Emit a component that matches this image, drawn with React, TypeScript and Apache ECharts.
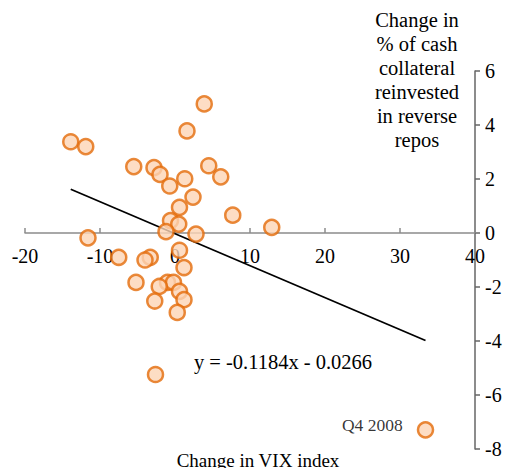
import React, { useEffect, useRef } from "react";
import * as echarts from "echarts";

const vixChange = [-13.9, -11.9, 3.9, 1.6, -5.5, -2.8, -2.0, 1.3, 4.5, 6.1, -0.7, 2.4, 0.6, 7.7, -0.6, 0.5, -1.2, 2.8, 12.9, -11.6, 0.6, -7.5, -3.3, -4.0, 1.2, -5.2, -1.0, -0.2, -2.1, 0.6, 1.2, -2.7, 0.3, -2.6];
const repoChange = [3.38, 3.2, 4.78, 3.78, 2.46, 2.42, 2.17, 2.01, 2.49, 2.08, 1.74, 1.33, 0.95, 0.66, 0.46, 0.33, 0.05, -0.04, 0.21, -0.18, -0.64, -0.9, -0.9, -1.0, -1.28, -1.83, -1.83, -1.83, -1.98, -2.16, -2.47, -2.52, -2.94, -5.24];
const q4x = 33.4;
const q4y = -7.29;
const q4Label = "Q4 2008";
const slope = -0.1184;
const intercept = -0.0266;
const equationText = "y = -0.1184x - 0.0266";
const yAxisTitle = "Change in\n% of cash\ncollateral\nreinvested\nin reverse\nrepos";
const xAxisTitle = "Change in VIX index";
const yMin = -8;
const yMax = 6;

const FONT = "'Liberation Serif', 'Times New Roman', serif";

export default function App() {
  const ref = useRef<HTMLDivElement>(null);
  useEffect(() => {
    if (!ref.current) return;
    const chart = echarts.init(ref.current, null, { renderer: "svg" });
    const allX = [...vixChange, q4x];
    const xMin = Math.min(...allX);
    const xMax = Math.max(...allX);
    const pts = vixChange.map((x, i) => [x, repoChange[i]]);
    const markerStyle = { color: "#FCD5B5", borderColor: "#E46C0A", borderWidth: 2.5 };
    const gridTop = 71;
    const gridBottom = 19;
    const plotH = 468 - gridTop - gridBottom;
    const zeroFromBottom = (-yMin / (yMax - yMin)) * plotH;
    const richSerif = { s: { fontFamily: FONT, fontSize: 20, color: "#000" } };
    chart.setOption({
      animation: false,
      textStyle: { fontFamily: FONT },
      grid: { left: 25, right: 33, top: gridTop, bottom: gridBottom, containLabel: false, outerBoundsMode: "none" },
      xAxis: {
        type: "value",
        min: -20,
        max: 40,
        interval: 10,
        position: "bottom",
        offset: -zeroFromBottom,
        axisLine: { onZero: false, lineStyle: { color: "#8C8C8C", width: 1.5 } },
        axisTick: { show: true, inside: true, length: 5, lineStyle: { color: "#8C8C8C", width: 1.5 } },
        axisLabel: {
          color: "#000",
          fontFamily: FONT,
          fontSize: 20,
          margin: 13,
          hideOverlap: false,
          showMaxLabel: true,
          showMinLabel: true,
          formatter: (v: number) => `{s|${v}}`,
          rich: richSerif,
        },
        splitLine: { show: false },
      },
      yAxis: {
        type: "value",
        position: "right",
        min: yMin,
        max: yMax,
        interval: 2,
        axisLine: { show: true, onZero: false, lineStyle: { color: "#666", width: 1.5 } },
        axisTick: { show: true, inside: false, length: 5, lineStyle: { color: "#666", width: 1.5 } },
        axisLabel: {
          color: "#000",
          fontFamily: FONT,
          fontSize: 20,
          margin: 10,
          showMaxLabel: true,
          showMinLabel: true,
          formatter: (v: number) => `{s|${v}}`,
          rich: richSerif,
        },
        splitLine: { show: false },
      },
      graphic: [
        {
          type: "text",
          x: 417,
          y: 8,
          style: { text: yAxisTitle, align: "center", verticalAlign: "top", font: `20.5px ${FONT}`, lineHeight: 24, fill: "#000" },
        },
        {
          type: "text",
          x: 258,
          y: 451,
          style: { text: xAxisTitle, align: "center", verticalAlign: "top", font: `19px ${FONT}`, fill: "#000" },
        },
        {
          type: "text",
          x: 283,
          y: 362,
          style: { text: equationText, align: "center", verticalAlign: "middle", font: `20.5px ${FONT}`, fill: "#000" },
        },
      ],
      series: [
        {
          type: "line",
          data: [
            [xMin, slope * xMin + intercept],
            [xMax, slope * xMax + intercept],
          ],
          showSymbol: false,
          symbol: "none",
          lineStyle: { color: "#000", width: 1.8 },
          z: 1,
        },
        {
          type: "scatter",
          data: pts,
          symbol: "circle",
          symbolSize: 15,
          itemStyle: markerStyle,
          z: 2,
        },
        {
          type: "scatter",
          data: [[q4x, q4y]],
          symbol: "circle",
          symbolSize: 15,
          itemStyle: markerStyle,
          label: {
            show: true,
            formatter: q4Label,
            position: "left",
            distance: 14,
            offset: [0, -5],
            color: "#000",
            fontFamily: FONT,
            fontSize: 17.5,
          },
          z: 2,
        },
      ],
    });
    return () => chart.dispose();
  }, []);
  return <div ref={ref} style={{ width: 508, height: 468, position: "absolute", left: 0, top: 0 }} />;
}
